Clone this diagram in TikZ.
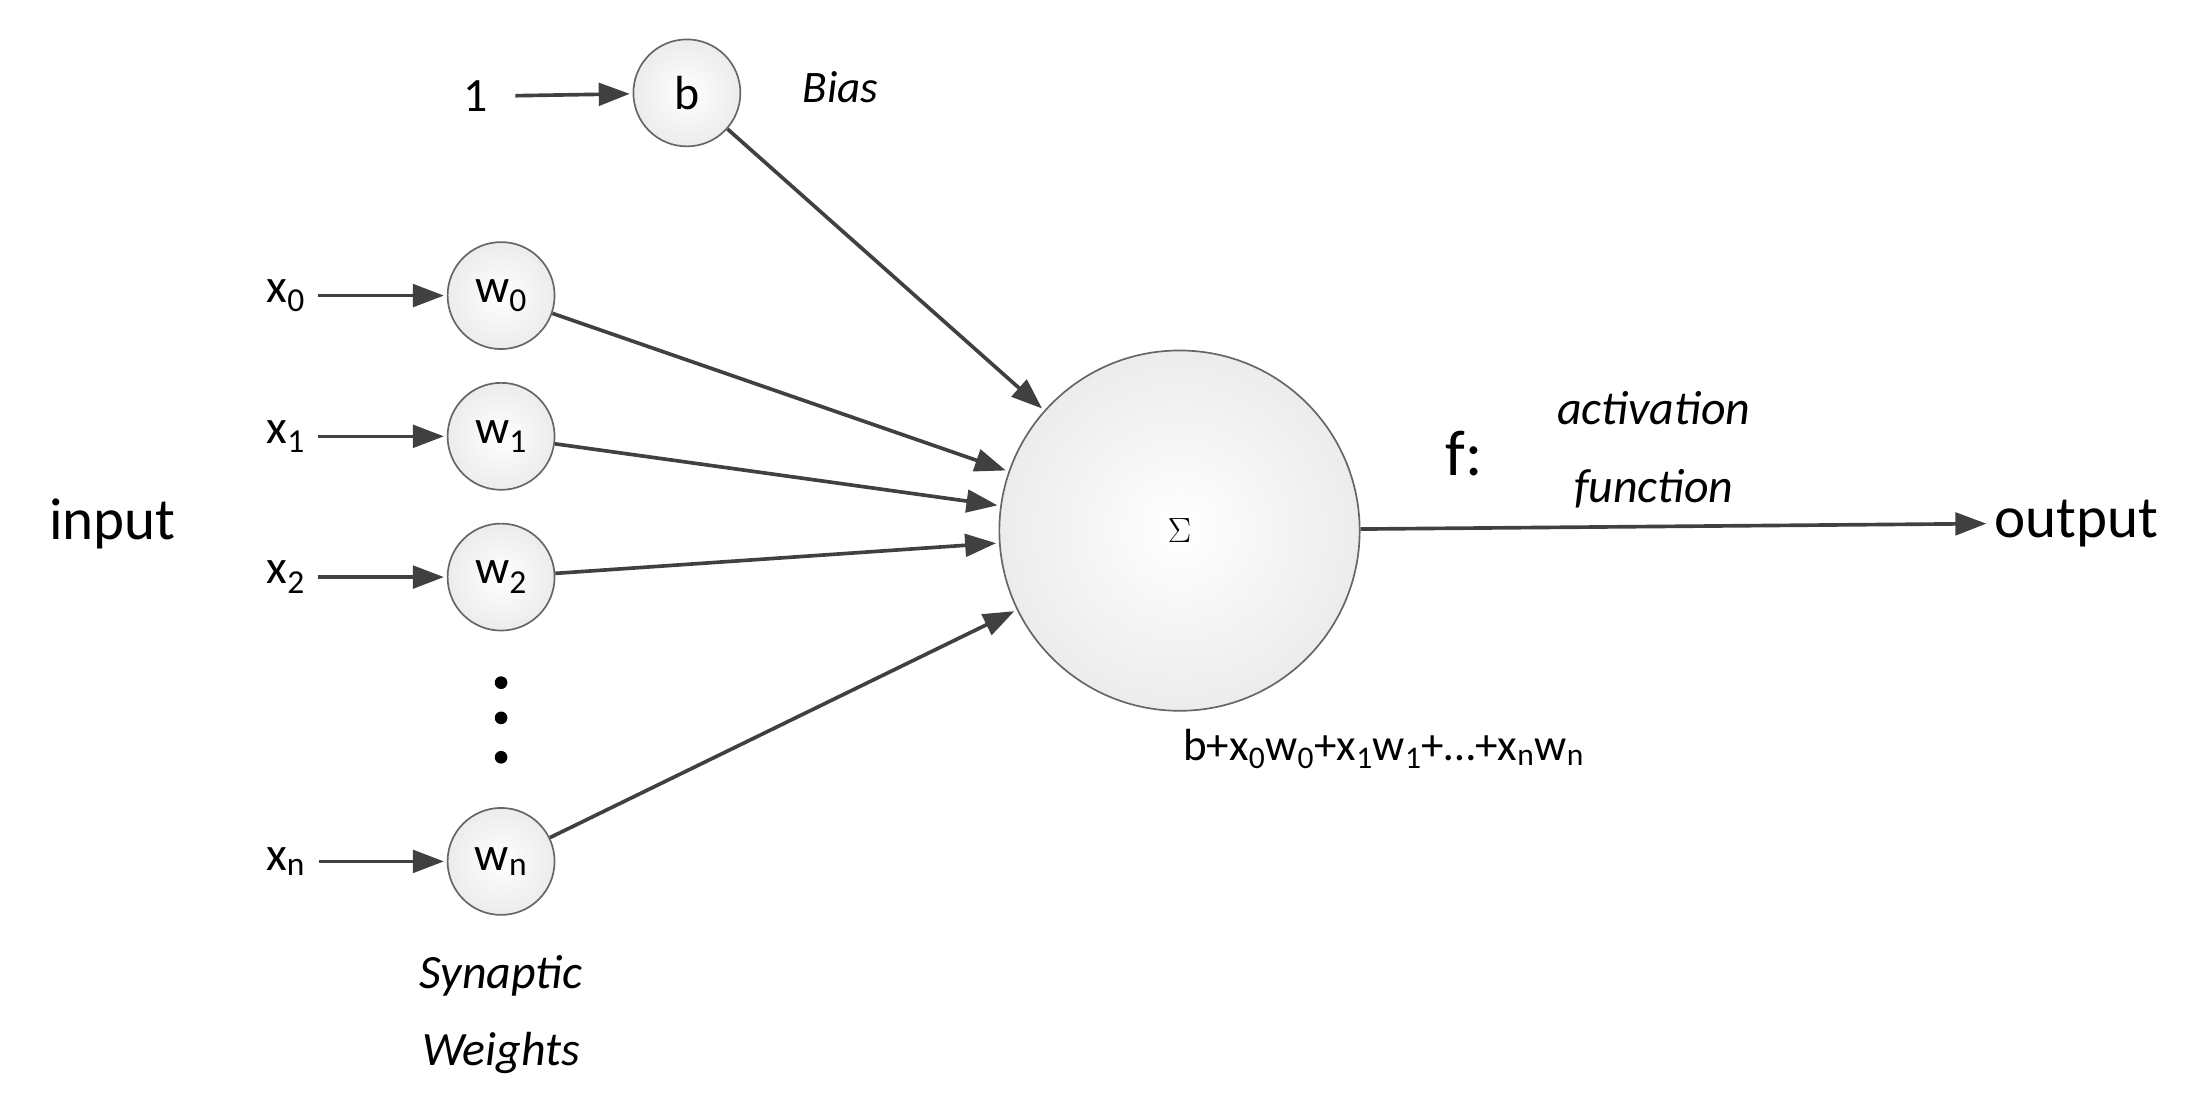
\documentclass[tikz,border=0pt]{standalone}
\usepackage{fontspec}
\setmainfont{Carlito}
\usetikzlibrary{arrows.meta}
\definecolor{ln}{HTML}{404040}
\begin{document}
\begin{tikzpicture}[x=1pt,y=-1pt,
  neu/.style={circle,draw=ln!80,line width=1.2pt,inner color=white,outer color=gray!15,minimum size=#1,inner sep=0pt},
  arr/.style={-{Triangle[length=22pt,width=16pt]},line width=2.6pt,draw=ln,shorten >=2pt},
  lab/.style={font=\fontsize{34}{36}\selectfont,text=black}]
\useasboundingbox (0,0) rectangle (1568,794);
\node[lab] (one) at (338,68) {1};
\node[neu=76pt,font=\fontsize{34}{36}\selectfont] (b) at (488,66) {b};
\node[lab,font=\fontsize{32}{34}\selectfont\itshape] (bias) at (597,62) {Bias};
\draw[arr] (one.east)++(16,0) coordinate (o1) (o1) -- (b);
\node[neu=256pt] (s) at (838,377) {\fontsize{130}{130}\selectfont$\Sigma$};
\foreach \i/\y/\t in {0/210/0,1/310/1,2/410/2,n/612/n}{
  \node[neu=76pt,font=\fontsize{34}{36}\selectfont] (w\i) at (356,\y) {w\textsubscript{\t}};
  \node[lab] (x\i) at (203,\y) {x\textsubscript{\t}};
  \draw[arr] (x\i.east)++(6,0) coordinate (c\i) (c\i) -- (w\i);
  \draw[arr] (w\i) -- (s);
}
\draw[arr] (b) -- (s);
\foreach \y/\k in {485/a,510/b,538/c} \fill[black] (356,\y) circle (4.5pt) coordinate (d\k);
\node[lab,font=\fontsize{42}{44}\selectfont] (in) at (80,372) {input};
\node[lab,font=\fontsize{42}{44}\selectfont] (out) at (1475,372) {output};
\draw[arr] (s) -- (out.west);
\node[lab,font=\fontsize{46}{48}\selectfont] (f) at (1040,322) {f:};
\node[lab,font=\fontsize{34}{36}\selectfont\itshape] (act) at (1175,290) {activation};
\node[lab,font=\fontsize{34}{36}\selectfont\itshape] (fun) at (1175,347) {function};
\node[lab,font=\fontsize{32}{34}\selectfont] (form) at (983,532) {b+x\textsubscript{0}w\textsubscript{0}+x\textsubscript{1}w\textsubscript{1}+…+x\textsubscript{n}w\textsubscript{n}};
\node[lab,font=\fontsize{34}{36}\selectfont\itshape] (syn) at (356,693) {Synaptic};
\node[lab,font=\fontsize{34}{36}\selectfont\itshape] (wei) at (356,748) {Weights};
\end{tikzpicture}
\end{document}
